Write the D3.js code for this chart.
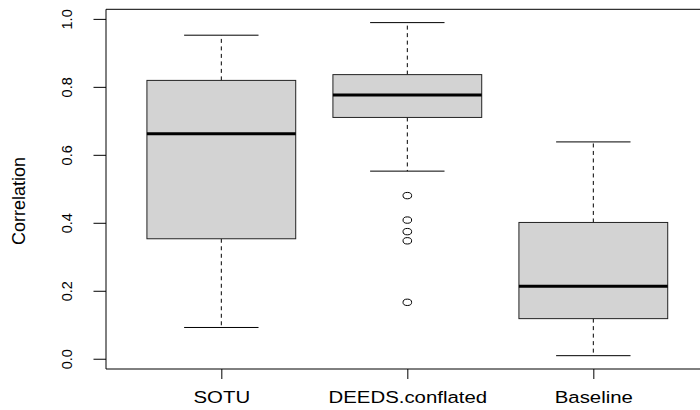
<!DOCTYPE html>
<html>
<head>
<meta charset="utf-8">
<script src="https://cdn.jsdelivr.net/npm/d3@7"></script>
<style>
  html, body { margin: 0; padding: 0; background: #fff; overflow: hidden; }
  svg { display: block; }
  text { font-family: "Liberation Sans", Arial, sans-serif; fill: #000; }
</style>
</head>
<body>
<div id="chart"></div>
<script>
// Box statistics
const categories = ["SOTU", "DEEDS.conflated", "Baseline"];
const whiskerLow = [0.092, 0.552, 0.009];
const q1 = [0.353, 0.710, 0.118];
const medians = [0.662, 0.776, 0.213];
const q3 = [0.819, 0.836, 0.401];
const whiskerHigh = [0.952, 0.989, 0.638];
const outliers = [[], [0.480, 0.408, 0.374, 0.347, 0.166], []];
const yTicks = [0, 0.2, 0.4, 0.6, 0.8, 1.0];

const W = 700, H = 410;
const plot = { left: 106, top: 9.3, bottom: 369 };

const data = categories.map((c, i) => ({
  name: c, pos: i + 1,
  lo: whiskerLow[i], q1: q1[i], med: medians[i], q3: q3[i], hi: whiskerHigh[i],
  out: outliers[i]
}));

// R style ranges: x from 0.5 to n+0.5, y data range, both padded by 4%
const xLim = [0.5, categories.length + 0.5];
const xPad = (xLim[1] - xLim[0]) * 0.04;
const allY = whiskerLow.concat(whiskerHigh, outliers.flat());
const yMin = d3.min(allY), yMax = d3.max(allY);
const yPad = (yMax - yMin) * 0.04;

const pxPerUnit = 186;
const x = d3.scaleLinear()
  .domain([xLim[0] - xPad, xLim[1] + xPad])
  .range([plot.left, plot.left + (xLim[1] - xLim[0] + 2 * xPad) * pxPerUnit]);

const y = d3.scaleLinear()
  .domain([yMin - yPad, yMax + yPad])
  .range([plot.bottom, plot.top]);

const svg = d3.select("#chart")
  .append("svg")
  .attr("width", W)
  .attr("height", H);

const boxW = 0.4, capW = 0.2;

const g = svg.selectAll(".box")
  .data(data)
  .enter()
  .append("g")
  .attr("class", "box");

// whiskers (dashed)
g.append("line")
  .attr("x1", d => x(d.pos)).attr("x2", d => x(d.pos))
  .attr("y1", d => y(d.q3)).attr("y2", d => y(d.hi))
  .attr("stroke", "#000").attr("stroke-dasharray", "4,3.5");
g.append("line")
  .attr("x1", d => x(d.pos)).attr("x2", d => x(d.pos))
  .attr("y1", d => y(d.q1)).attr("y2", d => y(d.lo))
  .attr("stroke", "#000").attr("stroke-dasharray", "4,3.5");

// staples
["hi", "lo"].forEach(k => {
  g.append("line")
    .attr("x1", d => x(d.pos - capW)).attr("x2", d => x(d.pos + capW))
    .attr("y1", d => y(d[k])).attr("y2", d => y(d[k]))
    .attr("stroke", "#000");
});

// boxes
g.append("rect")
  .attr("x", d => x(d.pos - boxW))
  .attr("width", d => x(d.pos + boxW) - x(d.pos - boxW))
  .attr("y", d => y(d.q3))
  .attr("height", d => y(d.q1) - y(d.q3))
  .attr("fill", "#d3d3d3")
  .attr("stroke", "#222");

// medians
g.append("line")
  .attr("x1", d => x(d.pos - boxW)).attr("x2", d => x(d.pos + boxW))
  .attr("y1", d => y(d.med)).attr("y2", d => y(d.med))
  .attr("stroke", "#000").attr("stroke-width", 3);

// outliers
g.selectAll(".out")
  .data(d => d.out.map(v => ({ pos: d.pos, v })))
  .enter()
  .append("ellipse")
  .attr("class", "out")
  .attr("cx", d => x(d.pos))
  .attr("cy", d => y(d.v))
  .attr("rx", 4.3).attr("ry", 3.2)
  .attr("fill", "none")
  .attr("stroke", "#000");

// frame (right side falls outside the picture)
const [x0, x1] = x.range();
const [yb, yt] = y.range();
svg.append("path")
  .attr("d", `M${x1},${yt}H${x0}V${yb}H${x1}`)
  .attr("fill", "none")
  .attr("stroke", "#000");

// y axis
const yAxis = svg.append("g")
  .attr("transform", `translate(${plot.left},0)`)
  .call(d3.axisLeft(y).tickValues(yTicks).tickSize(12.5).tickFormat(d3.format(".1f")));
yAxis.select(".domain").remove();
yAxis.selectAll(".tick line").attr("stroke", "#000");
yAxis.selectAll(".tick text")
  .attr("x", null).attr("dy", null)
  .attr("transform", "translate(-34,0) rotate(-90)")
  .attr("text-anchor", "middle")
  .style("font-size", "14.5px")
  .style("font-family", "'Liberation Sans', Arial, sans-serif")
  .attr("fill", "#000");

// x axis
const xAxis = svg.append("g")
  .attr("transform", `translate(0,${plot.bottom})`)
  .call(d3.axisBottom(x).tickValues(data.map(d => d.pos)).tickSize(10)
    .tickFormat(i => categories[i - 1]));
xAxis.select(".domain").remove();
xAxis.selectAll(".tick line").attr("stroke", "#000");
xAxis.selectAll(".tick text")
  .attr("y", null).attr("dy", null)
  .attr("transform", "translate(0,34) scale(1.2,1)")
  .style("font-size", "17px")
  .style("font-family", "'Liberation Sans', Arial, sans-serif")
  .attr("fill", "#000");

// axis title
svg.append("text")
  .attr("transform", "translate(25,201) rotate(-90)")
  .attr("text-anchor", "middle")
  .style("font-size", "18px")
  .text("Correlation");
</script>
</body>
</html>
